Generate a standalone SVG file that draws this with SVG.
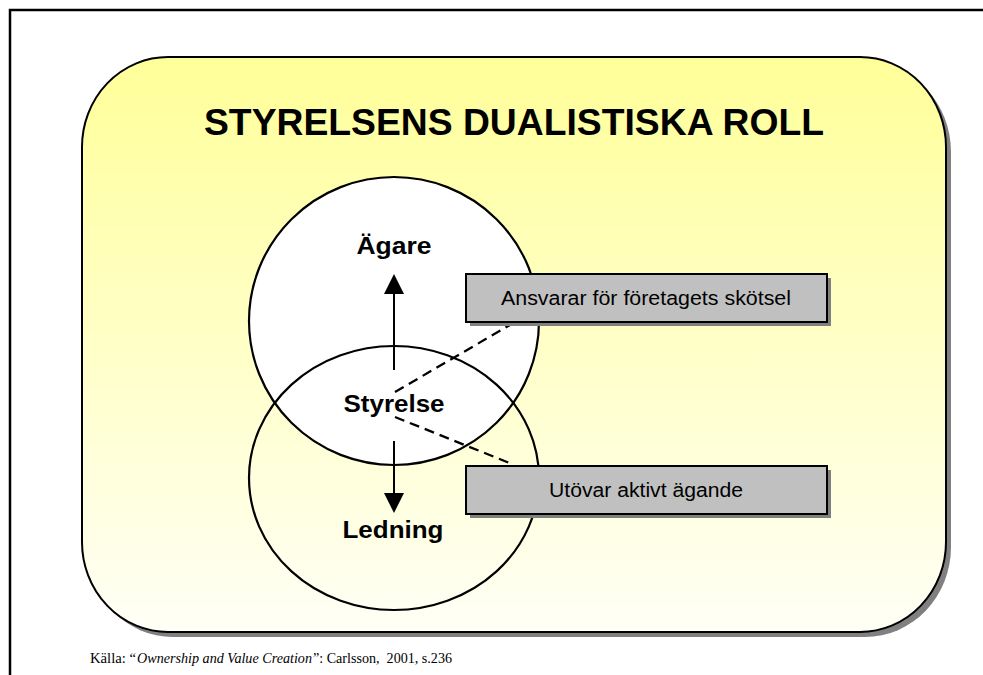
<svg xmlns="http://www.w3.org/2000/svg" width="983" height="675" viewBox="0 0 983 675">
  <defs>
    <linearGradient id="panelFill" x1="0" y1="0" x2="0" y2="1">
      <stop offset="0" stop-color="#FFFF99"/>
      <stop offset="1" stop-color="#FFFFF6"/>
    </linearGradient>
    <marker id="head" viewBox="0 0 20 20" refX="0" refY="10" markerWidth="20" markerHeight="20" markerUnits="userSpaceOnUse" orient="auto">
      <path d="M0,0 L20,10 L0,20 Z" fill="#000"/>
    </marker>
  </defs>
  <style>
    .ring { stroke: #000; stroke-width: 2.2; }
    .label { font-family: "Liberation Sans", Arial, sans-serif; font-weight: bold; font-size: 24px; fill: #000; text-anchor: middle; }
    .box { fill: #C0C0C0; stroke: #000; stroke-width: 2; }
    .boxShadow { fill: #808080; }
    .boxText { font-family: "Liberation Sans", Arial, sans-serif; font-size: 20px; fill: #000; text-anchor: middle; }
    .dash { stroke: #000; stroke-width: 2.3; stroke-dasharray: 10 6; fill: none; }
    .arrow { stroke: #000; stroke-width: 2; fill: none; marker-end: url(#head); }
    .src { font-family: "Liberation Serif", "Times New Roman", serif; font-size: 14.5px; fill: #000; }
  </style>

  <rect width="983" height="675" fill="#FFFFFF"/>
  <!-- page frame -->
  <path d="M10,675 L10,10 L990,10" fill="none" stroke="#000" stroke-width="2.5"/>

  <!-- panel with drop shadow -->
  <g id="panel">
    <rect x="87" y="62" width="864" height="575" rx="86" ry="90" fill="#808080"/>
    <rect x="82" y="57" width="864" height="575" rx="86" ry="90" fill="url(#panelFill)" stroke="#000" stroke-width="2"/>
  </g>

  <g id="title">
    <text x="514" y="135" font-family="Liberation Sans, Arial, sans-serif" font-weight="bold" font-size="36" text-anchor="middle" textLength="620" lengthAdjust="spacingAndGlyphs">STYRELSENS DUALISTISKA ROLL</text>
  </g>

  <g id="owner-circle">
    <ellipse class="ring" cx="394" cy="321" rx="145" ry="144" fill="#FFFFFF"/>
  </g>
  <g id="management-circle">
    <ellipse class="ring" cx="394" cy="478" rx="145" ry="132" fill="none"/>
  </g>

  <g id="connectors">
    <line class="arrow" x1="394" y1="370" x2="394" y2="294"/>
    <line class="arrow" x1="394" y1="441" x2="394" y2="493"/>
    <line class="dash" x1="395" y1="392" x2="515" y2="322"/>
    <line class="dash" x1="395" y1="417" x2="512" y2="464"/>
  </g>

  <g id="agare">
    <text class="label" x="394" y="254" textLength="75" lengthAdjust="spacingAndGlyphs">Ägare</text>
  </g>
  <g id="styrelse">
    <text class="label" x="394" y="412" textLength="101" lengthAdjust="spacingAndGlyphs">Styrelse</text>
  </g>
  <g id="ledning">
    <text class="label" x="393" y="538" textLength="101" lengthAdjust="spacingAndGlyphs">Ledning</text>
  </g>

  <g id="box-skotsel">
    <rect class="boxShadow" x="470" y="278" width="361" height="48"/>
    <rect class="box" x="466" y="274" width="361" height="48"/>
    <text class="boxText" x="646" y="305" textLength="290" lengthAdjust="spacingAndGlyphs">Ansvarar för företagets skötsel</text>
  </g>
  <g id="box-agande">
    <rect class="boxShadow" x="470" y="470" width="361" height="48"/>
    <rect class="box" x="466" y="466" width="361" height="48"/>
    <text class="boxText" x="646" y="497" textLength="194" lengthAdjust="spacingAndGlyphs">Utövar aktivt ägande</text>
  </g>

  <!-- source line, split so the italic title keeps its own run -->
  <g id="source">
    <text class="src" x="90" y="663" textLength="46" lengthAdjust="spacingAndGlyphs">Källa: “</text>
    <text class="src" x="137" y="663" font-style="italic" font-size="14" textLength="175" lengthAdjust="spacingAndGlyphs">Ownership and Value Creation</text>
    <text class="src" x="313" y="663" xml:space="preserve" textLength="139" lengthAdjust="spacingAndGlyphs">”: Carlsson,  2001, s.236</text>
  </g>
</svg>
